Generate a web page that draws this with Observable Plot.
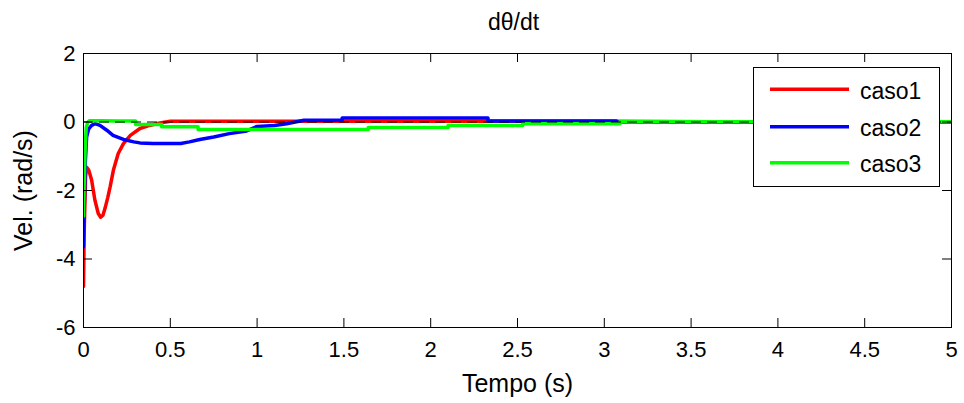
<!DOCTYPE html>
<html><head><meta charset="utf-8">
<script src="https://cdn.jsdelivr.net/npm/d3@7"></script>
<script src="https://cdn.jsdelivr.net/npm/@observablehq/plot@0.6"></script>
<style>
body{margin:0;background:#fff;}
#wrap{position:relative;width:964px;height:403px;font-family:"Liberation Sans",Arial,sans-serif;}
#legend{position:absolute;left:753px;top:67px;width:185px;height:118px;border:1px solid #000;background:#fff;}
</style></head><body><div id="wrap"></div>
<script>
// ---- data ----
const seriesNames = ["caso1", "caso2", "caso3"];
const titleText = "dθ/dt";
const xLabelText = "Tempo (s)";
const yLabelText = "Vel. (rad/s)";
const xTicks = [0, 0.5, 1, 1.5, 2, 2.5, 3, 3.5, 4, 4.5, 5];
const yTicks = [-6, -4, -2, 0, 2];

const t1 = [0, 0.004, 0.012, 0.018, 0.03, 0.047, 0.066, 0.085, 0.099, 0.112, 0.124, 0.14, 0.153, 0.172, 0.2, 0.23, 0.27, 0.325, 0.38, 0.44, 0.5, 0.7, 1.0, 1.5, 2.0, 2.5, 3.0, 4.0, 5.0];
const v1 = [-4.8, -3.2, -1.6, -1.32, -1.4, -1.7, -2.29, -2.67, -2.78, -2.72, -2.52, -2.2, -1.9, -1.41, -0.92, -0.63, -0.39, -0.19, -0.1, -0.03, 0.02, 0.02, 0.02, 0.02, 0.02, 0.02, 0.02, 0.0, 0.0];

const t2 = [0, 0.004, 0.01, 0.018, 0.03, 0.047, 0.066, 0.095, 0.134, 0.17, 0.23, 0.29, 0.325, 0.4, 0.56, 0.61, 0.67, 0.75, 0.84, 0.94, 1.0, 1.1, 1.17, 1.27, 1.49, 1.49, 2.33, 2.33, 3.07, 3.07, 5.0];
const v2 = [-3.65, -2.5, -1.2, -0.44, -0.2, -0.1, -0.05, -0.1, -0.24, -0.39, -0.51, -0.58, -0.61, -0.63, -0.63, -0.58, -0.51, -0.44, -0.34, -0.26, -0.13, -0.1, -0.05, 0.05, 0.05, 0.12, 0.12, 0.03, 0.03, 0.0, 0.0];

const t3 = [0, 0.004, 0.01, 0.016, 0.025, 0.035, 0.1, 0.2, 0.3, 0.3, 0.45, 0.45, 0.66, 0.66, 1.64, 1.64, 2.1, 2.1, 2.53, 2.53, 3.09, 3.09, 5.0];
const v3 = [-2.75, -1.8, -0.7, -0.15, 0.0, 0.04, 0.04, 0.03, 0.03, -0.07, -0.07, -0.14, -0.14, -0.22, -0.22, -0.16, -0.16, -0.1, -0.1, -0.05, -0.05, 0.01, 0.01];

// ---- build ----
const seriesT = [t1, t2, t3];
const seriesV = [v1, v2, v3];
const rows = seriesNames.flatMap((name, k) => seriesT[k].map((t, i) => ({t, v: seriesV[k][i], s: name})));
const colors = ["#ff0000", "#0000ff", "#00ff00"];

const W = 964, H = 403, mL = 83, mR = 13, mT = 53, mB = 76;
const plotW = W - mL - mR, plotH = H - mT - mB, tickLen = 9;
const font = "'Liberation Sans', Arial, sans-serif";

const chart = Plot.plot({
  width: W, height: H,
  marginLeft: mL, marginRight: mR, marginTop: mT, marginBottom: mB,
  style: {fontFamily: font, background: "white", color: "black", overflow: "visible"},
  x: {domain: [0, 5]},
  y: {domain: [-6, 2]},
  color: {domain: seriesNames, range: colors},
  marks: [
    Plot.line(rows, {x: "t", y: "v", stroke: "s", z: "s", strokeWidth: 3.5, strokeLinejoin: "round", clip: true}),
    Plot.ruleY([0], {stroke: "black", strokeDasharray: "10,6", strokeWidth: 1}),
    Plot.frame({stroke: "black", strokeWidth: 1}),
    // inward ticks on all four sides
    Plot.tickX(xTicks, {x: d => d, insetTop: plotH - tickLen, stroke: "black"}),
    Plot.tickX(xTicks, {x: d => d, insetBottom: plotH - tickLen, stroke: "black"}),
    Plot.tickY(yTicks, {y: d => d, insetRight: plotW - tickLen, stroke: "black"}),
    Plot.tickY(yTicks, {y: d => d, insetLeft: plotW - tickLen, stroke: "black"}),
    Plot.axisX(xTicks, {tickSize: 0, tickPadding: 14, fontSize: 22, tickFormat: d => String(d), label: null}),
    Plot.axisY(yTicks, {tickSize: 0, tickPadding: 8, fontSize: 22, tickFormat: d => String(d), label: null}),
    Plot.text([xLabelText], {text: d => d, frameAnchor: "bottom", textAnchor: "middle", lineAnchor: "middle", dy: 56, fontSize: 25}),
    Plot.text([yLabelText], {text: d => d, frameAnchor: "left", textAnchor: "middle", lineAnchor: "middle", dx: -60, rotate: -90, fontSize: 25}),
    Plot.text([titleText], {text: d => d, frameAnchor: "top", textAnchor: "middle", lineAnchor: "middle", dy: -31, dx: -4, fontSize: 23})
  ]
});
const wrap = document.getElementById("wrap");
wrap.appendChild(chart);

// legend (opaque box over the plot, as in the reference)
const leg = document.createElement("div");
leg.id = "legend";
wrap.appendChild(leg);
const lsvg = d3.select(leg).append("svg").attr("width", 185).attr("height", 118);
const rowY = [21.3, 58.7, 94.7];
seriesNames.forEach((name, i) => {
  lsvg.append("line").attr("x1", 16).attr("x2", 95).attr("y1", rowY[i]).attr("y2", rowY[i])
    .attr("stroke", colors[i]).attr("stroke-width", 3.5);
  lsvg.append("text").attr("x", 106).attr("y", rowY[i] + 9.7).attr("font-size", 23)
    .attr("font-family", font).attr("fill", "black").text(name);
});
</script>
</body></html>
